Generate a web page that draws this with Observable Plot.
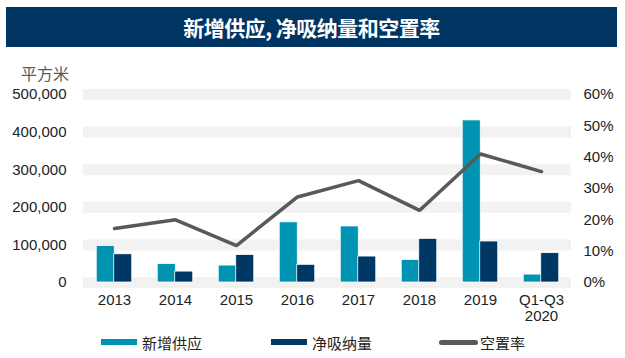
<!DOCTYPE html>
<html>
<head>
<meta charset="utf-8">
<script src="https://cdn.jsdelivr.net/npm/d3@7"></script>
<script src="https://cdn.jsdelivr.net/npm/@observablehq/plot@0.6"></script>
<style>
  body { margin: 0; background: #fff; }
  #wrap { position: relative; width: 625px; height: 358px; overflow: hidden; font-family: "Liberation Sans", Arial, "Noto Sans CJK SC", sans-serif; }
  #banner { position: absolute; left: 6px; top: 7px; width: 611px; height: 40px; background: #003562;
    color: #fff; font-family: "Noto Sans CJK SC", sans-serif; font-weight: bold; font-size: 21px;
    display: flex; align-items: center; justify-content: center; letter-spacing: -0.5px; }
  #unit { position: absolute; left: 21px; top: 61px; font-family: "Noto Sans CJK SC", sans-serif; font-size: 16px; color: #595959; }
  #chart { position: absolute; left: 0; top: 0; }
  .leg { position: absolute; top: 333px; font-family: "Noto Sans CJK SC", sans-serif; font-size: 15px; color: #222; display: flex; align-items: center; height: 18px; }
  .sw { display: inline-block; width: 36px; height: 6px; margin-right: 5px; }
</style>
</head>
<body>
<div id="wrap">
  <div id="chart"></div>
  <div id="banner">新增供应, 净吸纳量和空置率</div>
  <div id="unit">平方米</div>
  <div class="leg" style="left:101px"><span class="sw" style="background:#0093B2"></span>新增供应</div>
  <div class="leg" style="left:271px"><span class="sw" style="background:#003865"></span>净吸纳量</div>
  <div class="leg" style="left:439px"><span class="sw" style="background:#595959;width:39px;height:5px;border-radius:3px;margin-right:2px"></span>空置率</div>
</div>
<script>
const categories = ["2013", "2014", "2015", "2016", "2017", "2018", "2019", "Q1-Q3\n2020"];
const newSupply = [97000, 49000, 45000, 160000, 149000, 60000, 431000, 21000];
const netAbsorption = [75000, 29000, 73000, 47000, 69000, 116000, 109000, 78000];
const vacancyRate = [17.2, 20.0, 11.8, 27.3, 32.5, 23.0, 41.0, 35.4];
const leftTicks = [0, 100000, 200000, 300000, 400000, 500000];
const rightTicks = [0, 10, 20, 30, 40, 50, 60];

const yMax = 500000, rMax = 60;
const rows = categories.map((c, i) => ({c, supply: newSupply[i], absorb: netAbsorption[i], rate: vacancyRate[i]}));
const toY = r => r / rMax * yMax;
const fmt = d3.format(",");

const chart = Plot.plot({
  width: 625,
  height: 358,
  marginTop: 94,
  marginBottom: 76,
  marginLeft: 83,
  marginRight: 54,
  style: {fontFamily: "'Liberation Sans', Arial, sans-serif", fontSize: "15px", color: "#222", background: "transparent"},
  x: {domain: categories, paddingInner: 0.713, paddingOuter: 0.3565, axis: null},
  y: {domain: [0, yMax], axis: null},
  marks: [
    Plot.ruleY(leftTicks, {y: d => d, stroke: "#f2f2f2", strokeWidth: 11}),
    Plot.barY(rows, {x: "c", y: "supply", fill: "#0093B2", stroke: "white", strokeWidth: 0.75, dx: -8.75}),
    Plot.barY(rows, {x: "c", y: "absorb", fill: "#003865", stroke: "white", strokeWidth: 0.75, dx: 8.75}),
    Plot.line(rows, {x: "c", y: d => toY(d.rate), stroke: "#595959", strokeWidth: 3.5, strokeLinecap: "round", strokeLinejoin: "miter"}),
    Plot.text(leftTicks, {y: d => d, text: d => fmt(d), frameAnchor: "left", textAnchor: "end", dx: -17, fill: "#222", fontSize: 15}),
    Plot.text(rightTicks, {y: d => toY(d), text: d => d + "%", frameAnchor: "right", textAnchor: "start", dx: 12, fill: "#222", fontSize: 15}),
    Plot.text(categories, {x: d => d, text: d => d, frameAnchor: "bottom", lineAnchor: "top", dy: 11, lineHeight: 1.07, fill: "#222", fontSize: 15})
  ]
});
document.getElementById("chart").appendChild(chart);
</script>
</body>
</html>
